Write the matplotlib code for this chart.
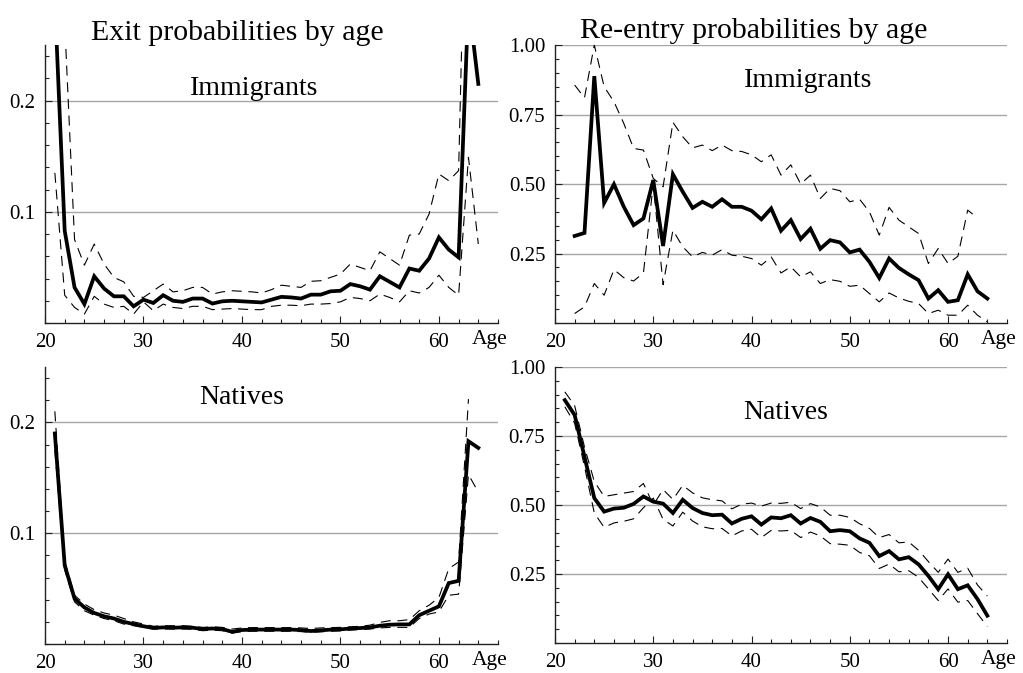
import numpy as np
import matplotlib
matplotlib.use("Agg")
import matplotlib.pyplot as plt
from matplotlib.ticker import MultipleLocator, FixedLocator, FixedFormatter

plt.rcParams["font.family"] = ["Liberation Serif", "DejaVu Serif"]

nan = np.nan

# ── данные ──────────────────────────────────────────────────────────────────
ages = np.arange(21, 65)

exit_imm_mean = [0.29, 0.083, 0.032, 0.017, 0.042, 0.031, 0.024, 0.024, 0.015, 0.021,
                 0.018, 0.025, 0.020, 0.019, 0.022, 0.022, 0.0175, 0.0195, 0.020, 0.0195,
                 0.019, 0.0185, 0.021, 0.0235, 0.023, 0.022, 0.0255, 0.0255, 0.0285, 0.029,
                 0.035, 0.033, 0.030, 0.042, 0.037, 0.032, 0.049, 0.047, 0.058, 0.077,
                 0.066, 0.059, 0.29, 0.215]
exit_imm_hi = [0.45, 0.27, 0.075, 0.052, 0.071, 0.053, 0.041, 0.037, 0.024, 0.023,
               0.029, 0.035, 0.028, 0.029, 0.032, 0.032, 0.026, 0.028, 0.029, 0.0285,
               0.028, 0.027, 0.030, 0.034, 0.033, 0.032, 0.0375, 0.038, 0.041, 0.044,
               0.053, 0.050, 0.047, 0.064, 0.058, 0.052, 0.079, 0.080, 0.098, 0.134,
               0.128, 0.137, 0.50, 0.40]
exit_imm_lo = [0.135, 0.025, 0.014, 0.008, 0.024, 0.017, 0.014, 0.015, 0.008, 0.019,
               0.011, 0.017, 0.014, 0.013, 0.015, 0.015, 0.012, 0.0125, 0.013, 0.0125,
               0.012, 0.012, 0.015, 0.016, 0.016, 0.0155, 0.017, 0.017, 0.0175, 0.019,
               0.023, 0.022, 0.020, 0.026, 0.023, 0.019, 0.029, 0.027, 0.032, 0.043,
               0.032, 0.025, 0.149, 0.071]

reent_imm_mean = [nan, 0.313, 0.324, 0.888, 0.432, 0.499, 0.418, 0.352, 0.376, 0.514,
                  0.277, 0.535, 0.472, 0.414, 0.436, 0.418, 0.445, 0.418, 0.418, 0.404,
                  0.373, 0.412, 0.332, 0.370, 0.302, 0.339, 0.267, 0.298, 0.290, 0.254,
                  0.264, 0.220, 0.162, 0.232, 0.198, 0.175, 0.154, 0.088, 0.118, 0.076,
                  0.082, 0.175, 0.114, 0.088]
reent_imm_hi = [nan, 0.856, 0.81, 1.0, 0.85, 0.796, 0.718, 0.628, 0.622, 0.52,
                0.49, 0.722, 0.67, 0.63, 0.64, 0.62, 0.64, 0.62, 0.617, 0.605,
                0.58, 0.605, 0.532, 0.569, 0.50, 0.532, 0.448, 0.484, 0.476, 0.436,
                0.445, 0.40, 0.316, 0.416, 0.37, 0.346, 0.322, 0.214, 0.268, 0.214,
                0.24, 0.406, 0.378, nan]
reent_imm_lo = [nan, 0.034, 0.058, 0.142, 0.10, 0.192, 0.163, 0.151, 0.18, 0.50,
                0.138, 0.334, 0.274, 0.238, 0.254, 0.244, 0.264, 0.244, 0.24, 0.232,
                0.208, 0.238, 0.18, 0.202, 0.166, 0.184, 0.142, 0.156, 0.15, 0.132,
                0.136, 0.106, 0.076, 0.108, 0.09, 0.078, 0.07, 0.034, 0.046, 0.028,
                0.028, 0.064, 0.028, 0.004]

exit_nat_mean = [0.19, 0.071, 0.041, 0.033, 0.028, 0.025, 0.023, 0.020, 0.018, 0.016,
                 0.0145, 0.015, 0.0147, 0.015, 0.0147, 0.0135, 0.014, 0.0135, 0.011, 0.0126,
                 0.013, 0.013, 0.013, 0.013, 0.013, 0.0126, 0.0117, 0.0123, 0.013, 0.0132,
                 0.014, 0.0144, 0.015, 0.0165, 0.0174, 0.0177, 0.0177, 0.026, 0.030, 0.034,
                 0.055, 0.057, 0.183, 0.177]
exit_nat_hi = [0.21, 0.075, 0.044, 0.036, 0.031, 0.028, 0.026, 0.023, 0.020, 0.018,
               0.016, 0.0165, 0.0165, 0.0165, 0.016, 0.015, 0.0155, 0.015, 0.0135, 0.0145,
               0.0148, 0.0148, 0.0148, 0.0148, 0.0148, 0.0145, 0.014, 0.0145, 0.0148, 0.015,
               0.0155, 0.016, 0.017, 0.0195, 0.021, 0.021, 0.022, 0.030, 0.035, 0.042,
               0.068, 0.074, 0.221, nan]
exit_nat_lo = [0.175, 0.067, 0.038, 0.030, 0.026, 0.023, 0.021, 0.018, 0.0165, 0.015,
               0.0135, 0.0135, 0.0135, 0.0135, 0.0133, 0.012, 0.0125, 0.012, 0.0098, 0.0112,
               0.0115, 0.0115, 0.0115, 0.0115, 0.0115, 0.0112, 0.0105, 0.011, 0.0115, 0.0118,
               0.0125, 0.013, 0.0135, 0.0145, 0.015, 0.015, 0.015, 0.023, 0.027, 0.029,
               0.044, 0.045, 0.153, 0.137]

reent_nat_mean = [0.88, 0.826, 0.675, 0.525, 0.476, 0.487, 0.49, 0.504, 0.531, 0.512,
                  0.505, 0.471, 0.519, 0.489, 0.471, 0.463, 0.465, 0.433, 0.45, 0.459,
                  0.429, 0.455, 0.452, 0.463, 0.433, 0.453, 0.439, 0.405, 0.409, 0.405,
                  0.379, 0.363, 0.315, 0.333, 0.303, 0.311, 0.285, 0.243, 0.195, 0.249,
                  0.195, 0.209, 0.159, 0.099]
reent_nat_hi = [0.91, 0.86, 0.71, 0.585, 0.531, 0.537, 0.543, 0.549, 0.578, 0.50,
                0.556, 0.52, 0.571, 0.544, 0.526, 0.519, 0.515, 0.486, 0.503, 0.507,
                0.496, 0.507, 0.506, 0.51, 0.487, 0.505, 0.493, 0.463, 0.463, 0.455,
                0.432, 0.415, 0.382, 0.393, 0.363, 0.366, 0.336, 0.295, 0.256, 0.304,
                0.256, 0.271, 0.21, 0.17]
reent_nat_lo = [0.856, 0.796, 0.64, 0.471, 0.419, 0.435, 0.441, 0.450, 0.49, 0.525,
                0.448, 0.424, 0.474, 0.442, 0.421, 0.414, 0.415, 0.388, 0.406, 0.412,
                0.382, 0.408, 0.406, 0.408, 0.382, 0.402, 0.388, 0.36, 0.358, 0.354,
                0.328, 0.316, 0.27, 0.286, 0.258, 0.262, 0.238, 0.196, 0.154, 0.196,
                0.148, 0.154, 0.106, 0.06]

exit_ticks = [0.1, 0.2]
exit_ticklabels = ["0.1", "0.2"]
reent_ticks = [0.25, 0.5, 0.75, 1.0]
reent_ticklabels = ["0.25", "0.50", "0.75", "1.00"]
age_ticks = [20, 30, 40, 50, 60]

# ── рисунок ─────────────────────────────────────────────────────────────────
fig = plt.figure(figsize=(10.23, 6.73), dpi=100, facecolor="white")

W, H = 1023, 673
def px_axes(x0, y0, x1, y1):
    return fig.add_axes([x0 / W, 1 - y1 / H, (x1 - x0) / W, (y1 - y0) / H])

ax_ei = px_axes(45, 45, 498, 323)
ax_ri = px_axes(555, 45, 1007, 323)
ax_en = px_axes(45, 367, 498, 644)
ax_rn = px_axes(555, 367, 1007, 643)

GRID = "#a6a6a6"

def style(ax, ymax, ticks, labels, minor):
    ax.set_xlim(20, 66)
    ax.set_ylim(0, ymax)
    for s in ["top", "right"]:
        ax.spines[s].set_visible(False)
    for s in ["left", "bottom"]:
        ax.spines[s].set_linewidth(1.0)
        ax.spines[s].set_color("#222222")
    ax.xaxis.set_major_locator(FixedLocator(age_ticks))
    ax.xaxis.set_minor_locator(MultipleLocator(2))
    ax.yaxis.set_major_locator(FixedLocator(ticks))
    ax.yaxis.set_major_formatter(FixedFormatter(labels))
    ax.yaxis.set_minor_locator(MultipleLocator(minor))
    ax.tick_params(which="both", direction="in", labelsize=15, color="#222222")
    ax.tick_params(which="major", length=5, width=0.8, pad=7)
    ax.tick_params(which="minor", length=3, width=0.8)
    for t in ticks:
        ax.axhline(t, color=GRID, lw=1.0, zorder=0)
    ax.text(0.943, -0.025, "Age", transform=ax.transAxes, fontsize=15.5,
            ha="left", va="top", clip_on=False)

def draw(ax, mean, lo, hi):
    ax.plot(ages, hi, color="black", lw=0.8, dashes=(9, 6), zorder=2)
    ax.plot(ages, lo, color="black", lw=0.8, dashes=(9, 6), zorder=2)
    ax.plot(ages, mean, color="black", lw=2.7, zorder=3, solid_joinstyle="miter")

draw(ax_ei, exit_imm_mean, exit_imm_lo, exit_imm_hi)
draw(ax_ri, reent_imm_mean, reent_imm_lo, reent_imm_hi)
draw(ax_en, exit_nat_mean, exit_nat_lo, exit_nat_hi)
draw(ax_rn, reent_nat_mean, reent_nat_lo, reent_nat_hi)

style(ax_ei, 0.25, exit_ticks, exit_ticklabels, 0.02)
style(ax_en, 0.25, exit_ticks, exit_ticklabels, 0.02)
style(ax_ri, 1.0, reent_ticks, reent_ticklabels, 0.05)
style(ax_rn, 1.0, reent_ticks, reent_ticklabels, 0.05)

# подписи панелей
ax_ei.text(0.461, 0.82, "Immigrants", transform=ax_ei.transAxes, fontsize=20,
           ha="center", va="baseline")
ax_ri.text(0.559, 0.848, "Immigrants", transform=ax_ri.transAxes, fontsize=20,
           ha="center", va="baseline")
ax_en.text(0.435, 0.865, "Natives", transform=ax_en.transAxes, fontsize=20,
           ha="center", va="baseline")
ax_rn.text(0.511, 0.813, "Natives", transform=ax_rn.transAxes, fontsize=20,
           ha="center", va="baseline")

fig.text(237 / W, 1 - 40.5 / H, "Exit probabilities by age", fontsize=21.5,
         ha="center", va="baseline")
fig.text(754 / W, 1 - 38 / H, "Re-entry probabilities by age", fontsize=21.5,
         ha="center", va="baseline")

fig.savefig("out.png", dpi=100, facecolor="white")
